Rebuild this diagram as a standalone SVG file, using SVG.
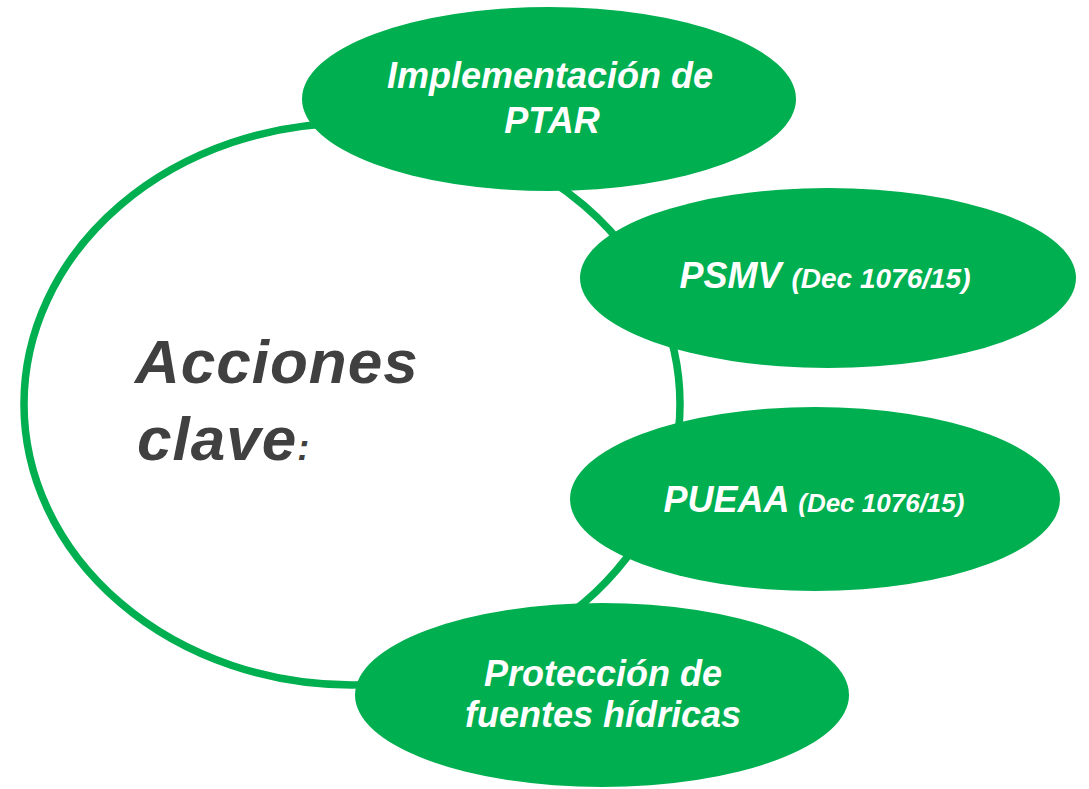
<svg xmlns="http://www.w3.org/2000/svg" width="1089" height="789" viewBox="0 0 1089 789">
<style>
.node{fill:#00AF50;}
.ring{fill:none;stroke:#00AF50;stroke-width:7.5;}
.lbl{font-family:"Liberation Sans",Arial,sans-serif;font-weight:bold;font-style:italic;fill:#FFFFFF;text-anchor:middle;}
.big{font-size:36px;}
.small{font-size:28px;}
.small2{font-size:26px;}
.title{font-family:"Liberation Sans",Arial,sans-serif;font-weight:bold;font-style:italic;fill:#404040;font-size:62px;letter-spacing:1px;}
</style>
<rect width="1089" height="789" fill="#FFFFFF"/>
<g id="connectors">
<ellipse class="ring" cx="352" cy="404" rx="328" ry="281"/>
</g>
<g id="center-label">
<text class="title" x="135" y="383">Acciones</text>
<text class="title" x="137" y="460">clave<tspan font-size="36px" letter-spacing="0">:</tspan></text>
</g>
<g id="node-ptar">
<ellipse class="node" cx="549" cy="99" rx="247" ry="92"/>
<text class="lbl big" x="550" y="88">Implementación de</text>
<text class="lbl big" x="552" y="133">PTAR</text>
</g>
<g id="node-psmv">
<ellipse class="node" cx="828" cy="278" rx="248" ry="90"/>
<text class="lbl big" x="825" y="288">PSMV <tspan class="small">(Dec 1076/15)</tspan></text>
</g>
<g id="node-pueaa">
<ellipse class="node" cx="815" cy="499" rx="245" ry="92"/>
<text class="lbl big" x="814" y="512">PUEAA <tspan class="small2">(Dec 1076/15)</tspan></text>
</g>
<g id="node-proteccion">
<ellipse class="node" cx="602" cy="695" rx="247" ry="92"/>
<text class="lbl big" x="603" y="686">Protección de</text>
<text class="lbl big" x="603" y="727">fuentes hídricas</text>
</g>
</svg>
